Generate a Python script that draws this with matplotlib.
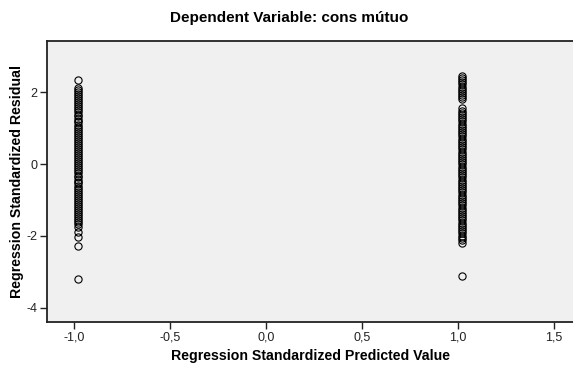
import matplotlib
matplotlib.use("Agg")
import matplotlib.pyplot as plt
from matplotlib.ticker import FuncFormatter, FixedLocator

plt.rcParams['font.family'] = ['Liberation Sans', 'DejaVu Sans']

# Standardized predicted values (two groups) and their standardized residuals
pred_low = -0.976
pred_high = 1.024

resid_low = [2.35, 2.11, 2.06, 2.00, 1.95, 1.89, 1.84, 1.78, 1.72, 1.67, 1.61,
             1.55, 1.50, 1.44, 1.38, 1.33, 1.27, 1.21, 1.16, 1.10, 1.04, 0.99,
             0.93, 0.87, 0.82, 0.76, 0.70, 0.65, 0.59, 0.53, 0.48, 0.42, 0.36,
             0.31, 0.25, 0.19, 0.14, 0.08, 0.02, -0.03, -0.09, -0.15, -0.20,
             -0.26, -0.32, -0.37, -0.43, -0.49, -0.54, -0.60, -0.66, -0.71,
             -0.77, -0.83, -0.88, -0.94, -1.00, -1.05, -1.11, -1.17, -1.22,
             -1.28, -1.34, -1.39, -1.45, -1.51, -1.56, -1.62, -1.68, -1.74,
             -1.90, -2.02, -2.27, -3.20]

resid_high = [2.46, 2.40, 2.34, 2.28, 2.22, 2.16, 2.10, 2.04, 1.98, 1.92, 1.86,
              1.80, 1.55, 1.49, 1.43, 1.37, 1.31, 1.25, 1.19, 1.13, 1.07, 1.01,
              0.95, 0.89, 0.83, 0.77, 0.71, 0.65, 0.59, 0.53, 0.47, 0.41, 0.35,
              0.29, 0.23, 0.17, 0.11, 0.05, -0.01, -0.07, -0.13, -0.19, -0.25,
              -0.31, -0.37, -0.43, -0.49, -0.55, -0.61, -0.67, -0.73, -0.79,
              -0.85, -0.91, -0.97, -1.03, -1.09, -1.15, -1.21, -1.27, -1.33,
              -1.39, -1.45, -1.51, -1.57, -1.63, -1.69, -1.75, -1.81, -1.87,
              -1.93, -1.99, -2.05, -2.11, -2.19, -3.11]

x_ticks = [-1.0, -0.5, 0.0, 0.5, 1.0, 1.5]
y_ticks = [-4, -2, 0, 2]

W, H = 573, 369
fig = plt.figure(figsize=(W / 100, H / 100), dpi=100)
left, right, top, bottom = 47, 574, 41, 322
ax = fig.add_axes([left / W, 1 - bottom / H, (right - left) / W, (bottom - top) / H])
ax.set_facecolor('#f0f0f0')

xs = [pred_low] * len(resid_low) + [pred_high] * len(resid_high)
ys = resid_low + resid_high
ax.plot(xs, ys, linestyle='none', marker='o', markersize=5.2,
        markerfacecolor='none', markeredgecolor='black', markeredgewidth=0.8)

ax.set_xlim(-1.139, 1.605)
ax.set_ylim(-4.40, 3.43)
ax.xaxis.set_major_locator(FixedLocator(x_ticks))
ax.yaxis.set_major_locator(FixedLocator(y_ticks))
ax.xaxis.set_major_formatter(FuncFormatter(lambda v, p: f"{v:.1f}".replace('.', ',')))
ax.yaxis.set_major_formatter(FuncFormatter(lambda v, p: f"{int(v)}"))

for side in ('left', 'bottom', 'top'):
    ax.spines[side].set_linewidth(1.3)
    ax.spines[side].set_color('#222222')
ax.spines['right'].set_visible(False)

ax.tick_params(axis='both', direction='out', length=5, width=1.0,
               labelsize=9, colors='#222222', pad=2)

ax.set_xlabel('Regression Standardized Predicted Value', fontsize=10.2,
              fontweight='bold', va='center')
ax.set_ylabel('Regression Standardized Residual', fontsize=10.2,
              fontweight='bold', va='center')
ax.xaxis.set_label_coords(0.5, (bottom - 356) / (bottom - top))
ax.yaxis.set_label_coords((17 - left) / (right - left), 0.5)
fig.suptitle('Dependent Variable: cons mútuo', x=0.505, y=0.97,
             fontsize=11, fontweight='bold')

fig.savefig('out.png', dpi=100, facecolor='white')
